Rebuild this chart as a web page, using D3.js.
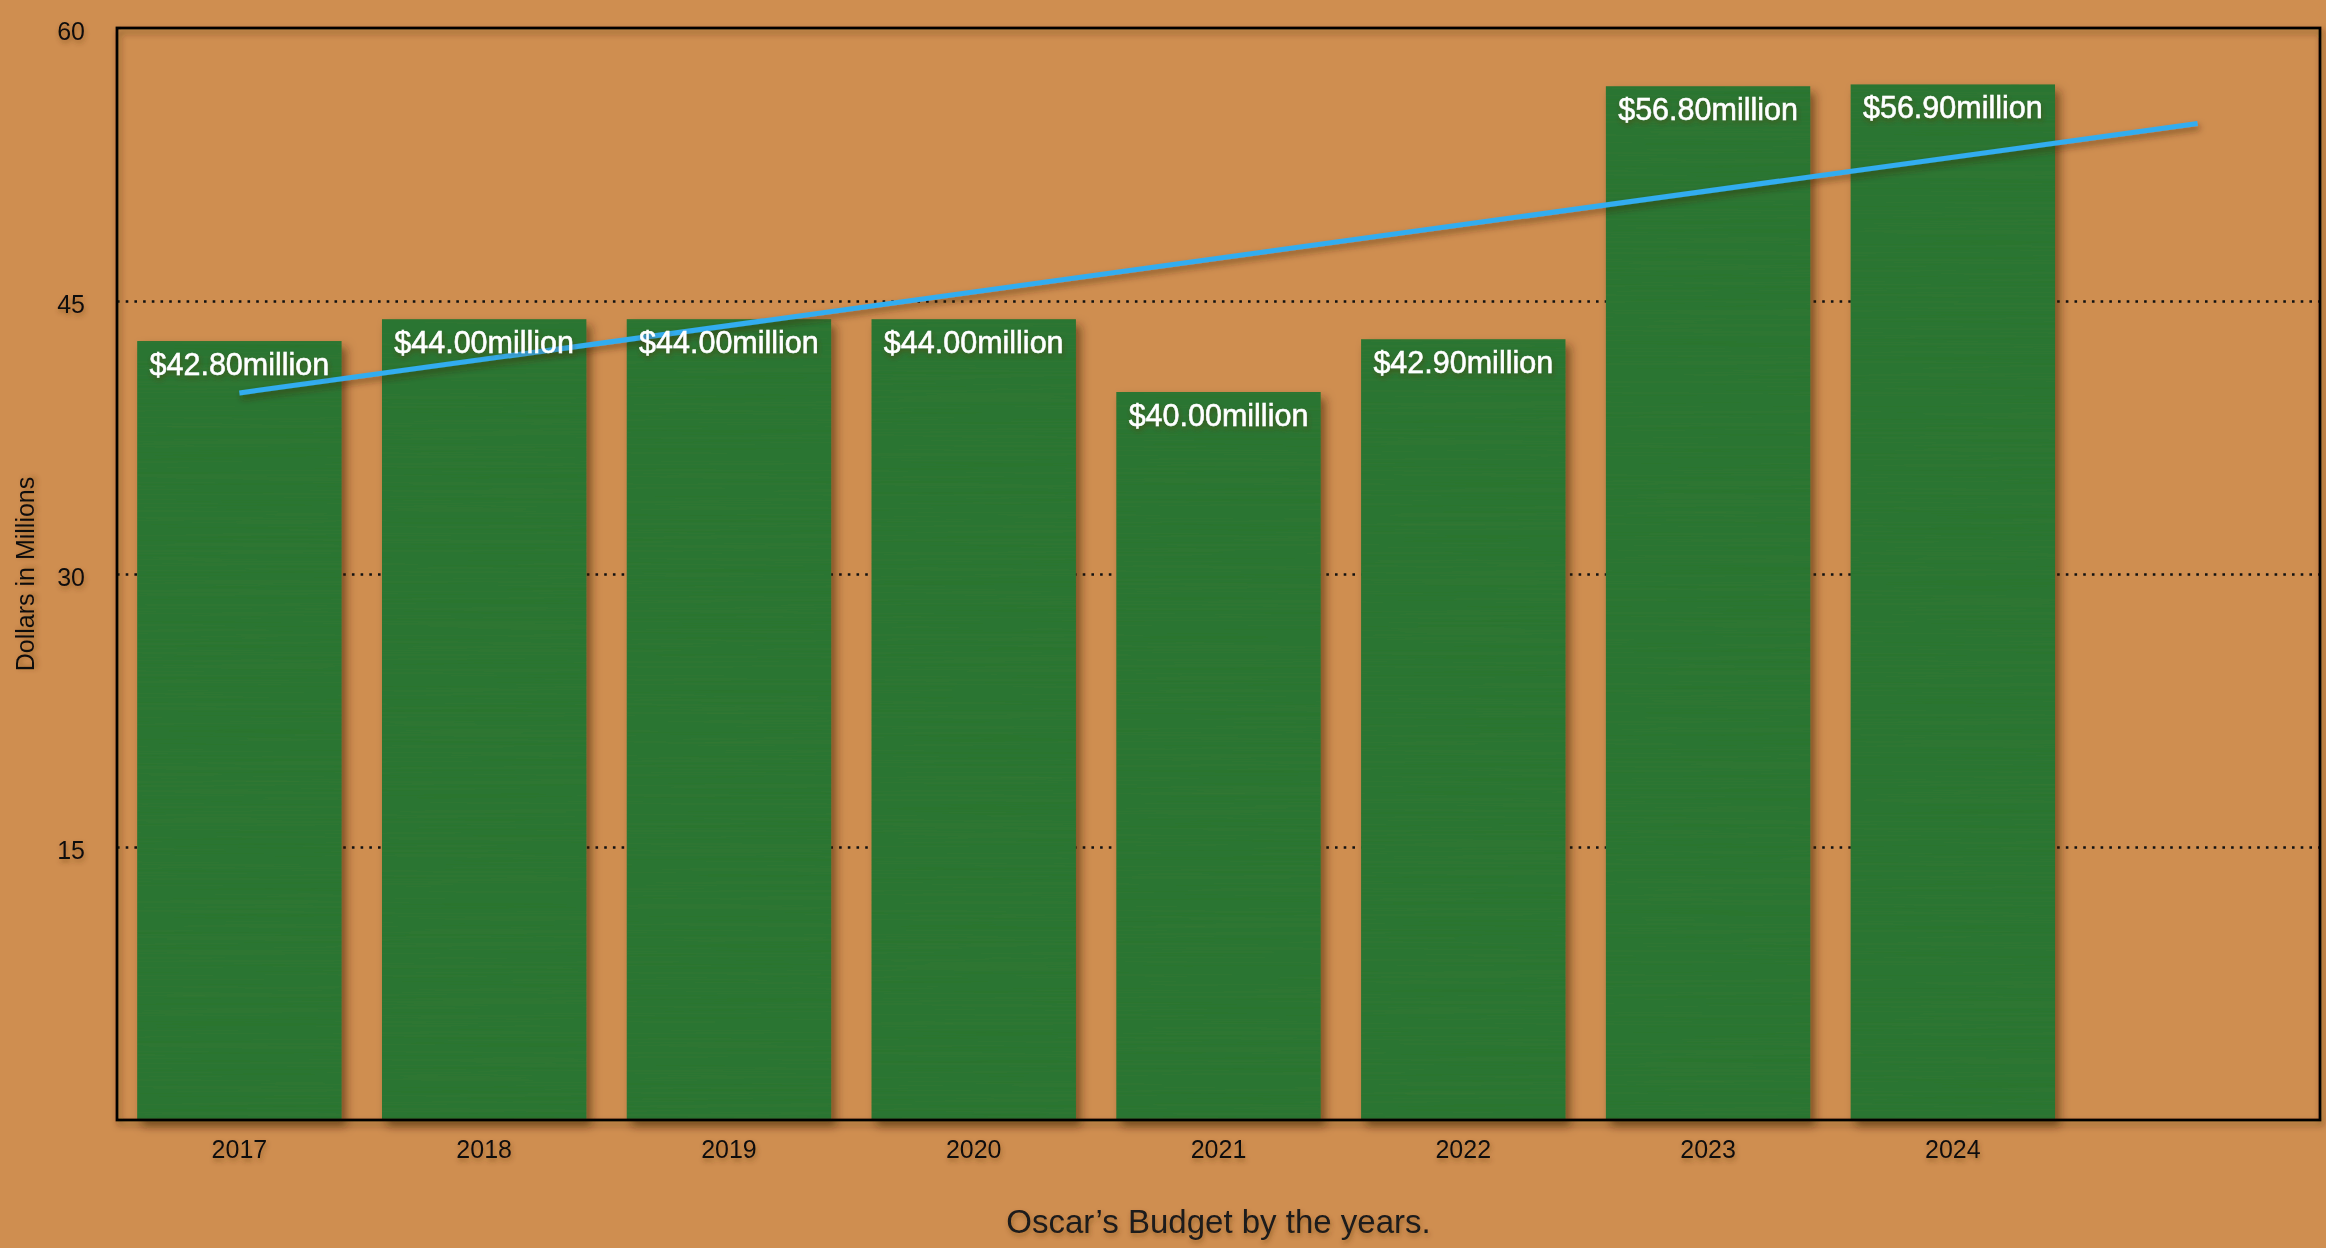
<!DOCTYPE html>
<html>
<head>
<meta charset="utf-8">
<script src="https://cdn.jsdelivr.net/npm/d3@7"></script>
<style>
  body { margin: 0; background: #cf8e50; overflow: hidden; }
  text { font-family: "Liberation Sans", Arial, Helvetica, sans-serif; }
</style>
</head>
<body>
<div id="chart"></div>
<script>
// chart data
var years = ["2017", "2018", "2019", "2020", "2021", "2022", "2023", "2024"];
var budgets = [42.8, 44.0, 44.0, 44.0, 40.0, 42.9, 56.8, 56.9];
var yTicks = [15, 30, 45, 60];
// the trend line runs one period past the last year
var forecastSlot = "next";

var svgWidth = 2326;
var svgHeight = 1248;
var margin = { top: 28, right: 6, bottom: 128, left: 117 };
var width = svgWidth - margin.left - margin.right;
var height = svgHeight - margin.top - margin.bottom;

var svg = d3.select("#chart")
  .append("svg")
  .attr("width", svgWidth)
  .attr("height", svgHeight);

svg.append("rect")
  .attr("width", svgWidth)
  .attr("height", svgHeight)
  .attr("fill", "#cf8e50");

// shadows
var defs = svg.append("defs");
defs.append("filter").attr("id", "barShadow")
  .attr("x", "-10%").attr("y", "-10%").attr("width", "130%").attr("height", "130%")
  .append("feDropShadow")
  .attr("dx", 5).attr("dy", 6).attr("stdDeviation", 5)
  .attr("flood-color", "#3a1e05").attr("flood-opacity", 0.55);
defs.append("filter").attr("id", "textShadow")
  .attr("x", "-20%").attr("y", "-40%").attr("width", "140%").attr("height", "190%")
  .append("feDropShadow")
  .attr("dx", 1).attr("dy", 3).attr("stdDeviation", 2.5)
  .attr("flood-color", "#5a3008").attr("flood-opacity", 0.45);
defs.append("filter").attr("id", "lineShadow")
  .attr("x", "-5%").attr("y", "-50%").attr("width", "110%").attr("height", "200%")
  .append("feDropShadow")
  .attr("dx", 2).attr("dy", 4).attr("stdDeviation", 3)
  .attr("flood-color", "#3a1e05").attr("flood-opacity", 0.5);

// faint horizontal grain on the bars
var grain = defs.append("filter").attr("id", "grain");
grain.append("feTurbulence")
  .attr("type", "fractalNoise")
  .attr("baseFrequency", "0.004 0.45")
  .attr("numOctaves", 2)
  .attr("seed", 4)
  .attr("result", "noise");
grain.append("feColorMatrix")
  .attr("in", "noise")
  .attr("type", "matrix")
  .attr("values", "0 0 0 0 0.08  0 0 0 0 0.24  0 0 0 0 0.06  0 0 0 0.18 -0.03")
  .attr("result", "tint");
grain.append("feComposite").attr("in", "tint").attr("in2", "SourceGraphic").attr("operator", "in");

var chartGroup = svg.append("g")
  .attr("transform", `translate(${margin.left}, ${margin.top})`);

// scales
var xBandScale = d3.scaleBand()
  .domain(years.concat([forecastSlot]))
  .range([0, width])
  .paddingInner(0.165)
  .paddingOuter(0.0825);

var yLinearScale = d3.scaleLinear()
  .domain([0, 60])
  .range([height, 0]);

// dotted gridlines
var gridAxis = d3.axisLeft(yLinearScale)
  .tickValues(yTicks.filter(d => d < 60))
  .tickSize(-width)
  .tickFormat("");
var grid = chartGroup.append("g").call(gridAxis);
grid.select(".domain").remove();
grid.selectAll("line")
  .attr("stroke", "#111")
  .attr("stroke-width", 2.6)
  .attr("stroke-dasharray", "2.6,6.1");

// bars
var bars = chartGroup.selectAll(".bar")
  .data(budgets)
  .enter()
  .append("g")
  .attr("class", "bar")
  .attr("filter", "url(#barShadow)");

bars.append("rect")
  .attr("x", (d, i) => xBandScale(years[i]))
  .attr("y", d => yLinearScale(d))
  .attr("width", xBandScale.bandwidth())
  .attr("height", d => height - yLinearScale(d))
  .attr("fill", "#2a742f");

bars.append("rect")
  .attr("x", (d, i) => xBandScale(years[i]))
  .attr("y", d => yLinearScale(d))
  .attr("width", xBandScale.bandwidth())
  .attr("height", d => height - yLinearScale(d))
  .attr("fill", "#2a742f")
  .attr("filter", "url(#grain)");

// frame around the plot
chartGroup.append("rect")
  .attr("x", 0)
  .attr("y", 0)
  .attr("width", width)
  .attr("height", height)
  .attr("fill", "none")
  .attr("stroke", "#000")
  .attr("stroke-width", 2.8)
  .attr("filter", "url(#lineShadow)");

// linear trend of the budgets
var xs = budgets.map((d, i) => i);
var meanX = d3.mean(xs);
var meanY = d3.mean(budgets);
var slope = d3.sum(xs, (x, i) => (x - meanX) * (budgets[i] - meanY)) /
            d3.sum(xs, x => (x - meanX) * (x - meanX));
var intercept = meanY - slope * meanX;
var slots = years.concat([forecastSlot]);
var trendPoints = [0, slots.length - 1].map(i => [
  xBandScale(slots[i]) + xBandScale.bandwidth() / 2,
  yLinearScale(intercept + slope * i)
]);

chartGroup.append("path")
  .datum(trendPoints)
  .attr("d", d3.line())
  .attr("fill", "none")
  .attr("stroke", "#33adf0")
  .attr("stroke-width", 5)
  .attr("filter", "url(#lineShadow)");

// value labels
chartGroup.selectAll(".value")
  .data(budgets)
  .enter()
  .append("text")
  .attr("class", "value")
  .attr("x", (d, i) => xBandScale(years[i]) + xBandScale.bandwidth() / 2)
  .attr("y", d => yLinearScale(d) + 34)
  .attr("text-anchor", "middle")
  .attr("fill", "#fff")
  .attr("stroke", "#fff")
  .attr("stroke-width", 0.5)
  .attr("font-size", 30.5)
  .attr("filter", "url(#textShadow)")
  .text(d => `$${d.toFixed(2)}million`);

// axes
var leftAxis = d3.axisLeft(yLinearScale)
  .tickValues(yTicks)
  .tickSize(0)
  .tickPadding(32);
var yAxis = chartGroup.append("g").call(leftAxis);
yAxis.select(".domain").remove();
yAxis.selectAll("text")
  .attr("font-size", 25)
  .attr("fill", "#111")
  .attr("dy", "0.45em")
  .attr("filter", "url(#textShadow)");

var bottomAxis = d3.axisBottom(xBandScale)
  .tickSize(0)
  .tickPadding(18)
  .tickFormat(d => d === forecastSlot ? "" : d);
var xAxis = chartGroup.append("g")
  .attr("transform", `translate(0, ${height})`)
  .call(bottomAxis);
xAxis.select(".domain").remove();
xAxis.selectAll("text")
  .attr("font-size", 25)
  .attr("fill", "#111")
  .attr("dy", "0.8em")
  .attr("filter", "url(#textShadow)");

// axis titles
chartGroup.append("text")
  .attr("transform", "rotate(-90)")
  .attr("x", 0 - height / 2)
  .attr("y", 0 - margin.left + 34)
  .attr("text-anchor", "middle")
  .attr("font-size", 25)
  .attr("fill", "#111")
  .attr("filter", "url(#textShadow)")
  .text("Dollars in Millions");

chartGroup.append("text")
  .attr("x", width / 2)
  .attr("y", height + 113)
  .attr("text-anchor", "middle")
  .attr("font-size", 33)
  .attr("fill", "#1a1a1a")
  .attr("filter", "url(#textShadow)")
  .text("Oscar\u2019s Budget by the years.");
</script>
</body>
</html>
